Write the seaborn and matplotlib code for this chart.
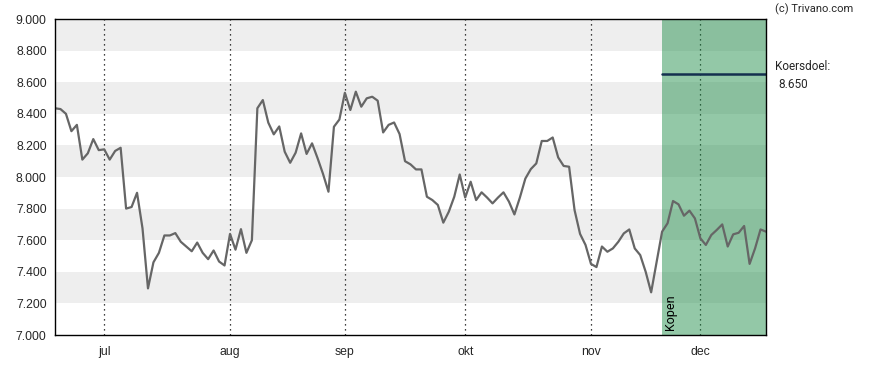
import matplotlib
matplotlib.use("Agg")
import matplotlib.pyplot as plt
import seaborn as sns
import pandas as pd
import numpy as np

# ---- data ----
prices = [
    8.435, 8.43, 8.40, 8.29, 8.33, 8.11, 8.15, 8.24, 8.17, 8.175,
    8.11, 8.165, 8.185, 7.80, 7.81, 7.90, 7.675, 7.295, 7.46, 7.52,
    7.63, 7.63, 7.645, 7.59, 7.56, 7.53, 7.585, 7.52, 7.48, 7.535,
    7.465, 7.44, 7.64, 7.54, 7.67, 7.52, 7.60, 8.435, 8.487, 8.344,
    8.27, 8.32, 8.16, 8.09, 8.154, 8.276, 8.146, 8.213, 8.12, 8.02,
    7.907, 8.318, 8.364, 8.533, 8.424, 8.54, 8.445, 8.498, 8.508, 8.483,
    8.282, 8.33, 8.345, 8.272, 8.10, 8.08, 8.048, 8.048, 7.875, 7.854,
    7.823, 7.711, 7.78, 7.875, 8.016, 7.87, 7.97, 7.854, 7.903, 7.87,
    7.833, 7.87, 7.903, 7.844, 7.763, 7.87, 7.99, 8.05, 8.086, 8.228,
    8.228, 8.25, 8.124, 8.07, 8.065, 7.79, 7.64, 7.57, 7.45, 7.43,
    7.56, 7.527, 7.548, 7.59, 7.643, 7.668, 7.548, 7.506, 7.40, 7.27,
    7.464, 7.654, 7.707, 7.848, 7.827, 7.755, 7.787, 7.738, 7.612, 7.57,
    7.633, 7.665, 7.70, 7.56, 7.637, 7.647, 7.69, 7.45, 7.548, 7.668,
    7.654,
]
month_labels = ["jul", "aug", "sep", "okt", "nov", "dec"]
month_start_idx = [9, 32, 53, 75, 98, 118]
buy_start_idx = 111
target_price = 8.650
target_label = "Koersdoel:"
signal_label = "Kopen"
y_ticks = [7.0, 7.2, 7.4, 7.6, 7.8, 8.0, 8.2, 8.4, 8.6, 8.8, 9.0]

df = pd.DataFrame({"idx": np.arange(len(prices)), "price": prices})

sns.set_style("white")
plt.rcParams["font.family"] = ["Liberation Sans", "DejaVu Sans"]

fig = plt.figure(figsize=(8.88, 3.70), dpi=100)
ax = fig.add_axes([55 / 888, 1 - 335 / 370, (766 - 55) / 888, (335 - 19) / 370])

xmax = len(prices) - 1
ax.set_xlim(0, xmax)
ax.set_ylim(7.0, 9.0)

# alternating bands
for i, lo in enumerate(y_ticks[:-1]):
    if i % 2 == 1:
        ax.axhspan(lo, y_ticks[i + 1], color="#eeeeee", lw=0, zorder=0)

# month gridlines
for m in month_start_idx:
    ax.axvline(m, color="black", lw=0.9, ls=(0, (1, 3)), zorder=1)

# buy region
ax.axvspan(buy_start_idx, xmax, color="#1b8a44", alpha=0.47, lw=0, zorder=2)

# target line
ax.plot([buy_start_idx, xmax], [target_price, target_price], color="#14304f", lw=1.8, zorder=4)

sns.lineplot(data=df, x="idx", y="price", ax=ax, color="#666666", lw=1.6, zorder=3)

ax.text(buy_start_idx + 0.4, 7.03, signal_label, rotation=90, ha="left", va="bottom",
        fontsize=9, color="black", zorder=6, family=["Roboto", "DejaVu Sans"])

ax.set_xticks(month_start_idx)
ax.set_xticklabels(month_labels)
ax.set_yticks(y_ticks)
ax.set_yticklabels([f"{v:.3f}" for v in y_ticks])
ax.tick_params(axis="both", labelsize=8.8, length=4, width=0.8, color="black", direction="out", pad=2)
ax.tick_params(axis="x", pad=4)
ax.set_xlabel("")
ax.set_ylabel("")

for s in ["left", "bottom", "right", "top"]:
    ax.spines[s].set_visible(True)
    ax.spines[s].set_color("black")
    ax.spines[s].set_linewidth(1.0)
    ax.spines[s].set_zorder(6)

fig.text(775 / 888, 1 - 9 / 370, "(c) Trivano.com", fontsize=8, ha="left", va="center",
         family=["Roboto", "DejaVu Sans"])
fig.text(775 / 888, 1 - 67 / 370, target_label, fontsize=8.5, ha="left", va="center",
         family=["Roboto", "DejaVu Sans"])
fig.text(778 / 888, 1 - 85 / 370, f"{target_price:.3f}", fontsize=8.5, ha="left", va="center",
         family=["Roboto", "DejaVu Sans"])

fig.savefig("out.png", dpi=100)
